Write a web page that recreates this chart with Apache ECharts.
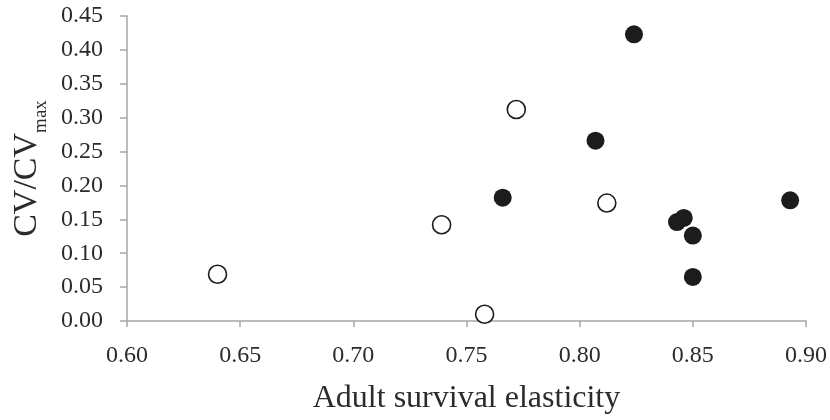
<!DOCTYPE html>
<html>
<head>
<meta charset="utf-8">
<script src="https://cdn.jsdelivr.net/npm/echarts@6/dist/echarts.min.js"></script>
<style>html,body{margin:0;padding:0;background:#fff}#c{width:830px;height:420px}</style>
</head>
<body>
<div id="c"></div>
<script>
// Data
var openX = [0.640, 0.739, 0.758, 0.772, 0.812];
var openY = [0.069, 0.142, 0.010, 0.312, 0.174];
var filledX = [0.766, 0.807, 0.824, 0.843, 0.846, 0.850, 0.850, 0.893];
var filledY = [0.182, 0.266, 0.423, 0.146, 0.152, 0.126, 0.065, 0.178];
var xTicks = [0.60, 0.65, 0.70, 0.75, 0.80, 0.85, 0.90];
var yTicks = [0.00, 0.05, 0.10, 0.15, 0.20, 0.25, 0.30, 0.35, 0.40, 0.45];

function pairs(xs, ys) { return xs.map(function (x, i) { return [x, ys[i]]; }); }

var font = '"Liberation Serif", "DejaVu Serif", serif';
var textColor = '#2b2b2b';
var chart = echarts.init(document.getElementById('c'));
chart.setOption({
  animation: false,
  grid: { left: 127, right: 23, top: 16, bottom: 98 },
  xAxis: {
    type: 'value', min: xTicks[0], max: xTicks[xTicks.length - 1], interval: 0.05,
    name: 'Adult survival elasticity', nameLocation: 'middle', nameGap: 62,
    nameTextStyle: { fontFamily: font, fontSize: 32, color: textColor },
    axisLine: { lineStyle: { color: '#a6a6a6', width: 1.5 } },
    axisTick: { show: true, length: 6, lineStyle: { color: '#a6a6a6', width: 1.5 } },
    axisLabel: { fontFamily: font, fontSize: 24, color: textColor, margin: 23,
      formatter: function (v) { return v.toFixed(2); } },
    splitLine: { show: false }
  },
  yAxis: {
    type: 'value', min: yTicks[0], max: yTicks[yTicks.length - 1], interval: 0.05,
    name: '{a|CV/CV}{b|max}', nameLocation: 'middle', nameGap: 80, nameRotate: 90,
    nameTextStyle: { fontFamily: font, color: textColor,
      rich: {
        a: { fontFamily: font, fontSize: 34, color: textColor, verticalAlign: 'bottom' },
        b: { fontFamily: font, fontSize: 19, color: textColor, verticalAlign: 'bottom', padding: [0, 0, -6, 0] }
      } },
    axisLine: { show: true, lineStyle: { color: '#a6a6a6', width: 1.5 } },
    axisTick: { show: true, length: 7, lineStyle: { color: '#a6a6a6', width: 1.5 } },
    axisLabel: { fontFamily: font, fontSize: 24, color: textColor, margin: 24,
      formatter: function (v) { return v.toFixed(2); } },
    splitLine: { show: false }
  },
  series: [
    {
      type: 'scatter', data: pairs(openX, openY), symbol: 'circle', symbolSize: 18,
      itemStyle: { color: '#ffffff', borderColor: '#1c1c1c', borderWidth: 1.6, opacity: 1 }
    },
    {
      type: 'scatter', data: pairs(filledX, filledY), symbol: 'circle', symbolSize: 18,
      itemStyle: { color: '#1c1c1c', borderWidth: 0, opacity: 1 }
    }
  ]
});
</script>
</body>
</html>
